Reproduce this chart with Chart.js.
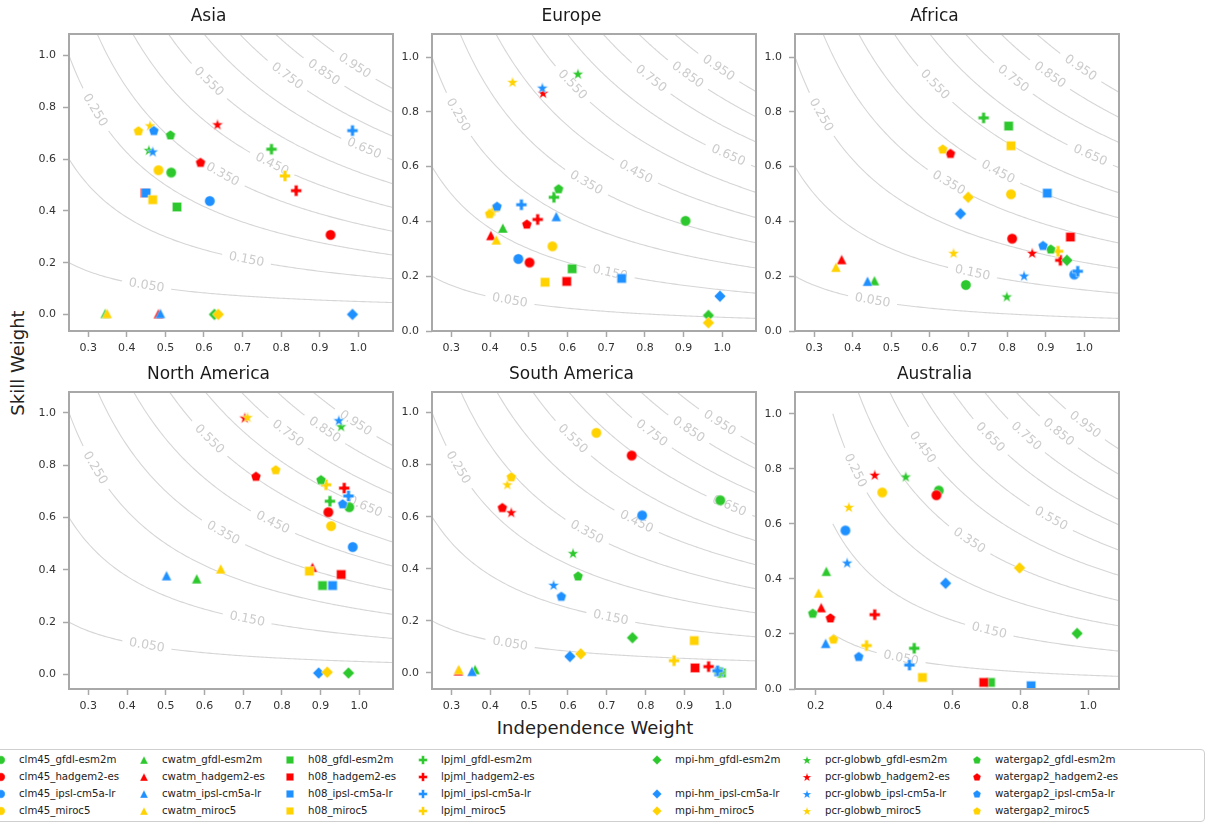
<!DOCTYPE html>
<html lang="en">
<head>
<meta charset="UTF-8">
<title>Skill vs Independence Weight</title>
<script src="https://cdn.jsdelivr.net/npm/chart.js"></script>
<style>
    body { margin: 0; background: #fff; font-family: "DejaVu Sans", sans-serif; }
    #page { position: relative; width: 1209px; height: 825px; overflow: hidden; background: #fff; }
    .panel { position: absolute; }
    .axis-label { position: absolute; font-size: 18px; color: #222; white-space: nowrap; }
    #ylabel { left: 17px; top: 363px; transform: translate(-50%, -50%) rotate(-90deg); }
    #xlabel { left: 595px; top: 727px; transform: translate(-50%, -50%); }
    #legend { position: absolute; left: -6px; top: 749px; width: 1211px; height: 73px;
              border: 1.5px solid #cfcfcf; border-radius: 4px; box-sizing: border-box; }
    .item { position: absolute; font-size: 10.2px; color: #222; white-space: nowrap; line-height: 12px; }
    .item canvas { position: absolute; }
</style>
</head>
<body>
<div id="page">
    <div id="legend"></div>
    <div class="axis-label" id="ylabel">Skill Weight</div>
    <div class="axis-label" id="xlabel">Independence Weight</div>
</div>
<script>
    const regions = ["Asia", "Europe", "Africa", "North America", "South America", "Australia"];
    const models = ["clm45", "cwatm", "h08", "lpjml", "mpi-hm", "pcr-globwb", "watergap2"];
    const gcms = ["gfdl-esm2m", "hadgem2-es", "ipsl-cm5a-lr", "miroc5"];
    const missing = ["mpi-hm_hadgem2-es"];

    // order of values: models x gcms, without mpi-hm_hadgem2-es (27 series)
    const asiaX = [0.515, 0.928, 0.615, 0.482, 0.344, 0.482, 0.487, 0.349, 0.530, 0.447, 0.450, 0.467, 0.775, 0.839, 0.985, 0.810, 0.627, 0.985, 0.637, 0.457, 0.635, 0.467, 0.460, 0.513, 0.591, 0.470, 0.430];
    const asiaY = [0.548, 0.307, 0.438, 0.557, 0.004, 0.003, 0.004, 0.004, 0.415, 0.469, 0.469, 0.443, 0.638, 0.478, 0.710, 0.535, 0.0, 0.0, 0.0, 0.635, 0.734, 0.629, 0.730, 0.693, 0.587, 0.710, 0.709];
    const europeX = [0.905, 0.502, 0.473, 0.561, 0.433, 0.402, 0.571, 0.416, 0.612, 0.598, 0.740, 0.542, 0.565, 0.523, 0.481, 0.409, 0.964, 0.994, 0.964, 0.627, 0.537, 0.535, 0.458, 0.577, 0.495, 0.418, 0.399];
    const europeY = [0.402, 0.250, 0.263, 0.309, 0.376, 0.349, 0.418, 0.333, 0.227, 0.181, 0.192, 0.178, 0.488, 0.407, 0.461, 0.440, 0.057, 0.127, 0.030, 0.939, 0.869, 0.888, 0.909, 0.519, 0.390, 0.455, 0.428];
    const africaX = [0.693, 0.813, 0.974, 0.810, 0.456, 0.371, 0.438, 0.356, 0.804, 0.964, 0.904, 0.810, 0.739, 0.938, 0.983, 0.932, 0.955, 0.679, 0.699, 0.799, 0.865, 0.844, 0.661, 0.913, 0.653, 0.893, 0.633];
    const africaY = [0.168, 0.337, 0.206, 0.499, 0.184, 0.261, 0.182, 0.233, 0.748, 0.343, 0.503, 0.676, 0.778, 0.258, 0.218, 0.291, 0.258, 0.428, 0.488, 0.126, 0.285, 0.202, 0.285, 0.299, 0.648, 0.312, 0.664];
    const northAmericaX = [0.974, 0.920, 0.983, 0.927, 0.580, 0.879, 0.502, 0.642, 0.905, 0.953, 0.931, 0.871, 0.924, 0.961, 0.972, 0.914, 0.972, 0.895, 0.917, 0.953, 0.704, 0.947, 0.711, 0.901, 0.733, 0.957, 0.784];
    const northAmericaY = [0.639, 0.620, 0.487, 0.567, 0.366, 0.410, 0.378, 0.404, 0.340, 0.382, 0.340, 0.395, 0.662, 0.712, 0.682, 0.725, 0.006, 0.006, 0.009, 0.948, 0.981, 0.971, 0.983, 0.744, 0.757, 0.652, 0.782];
    const southAmericaX = [0.992, 0.764, 0.791, 0.673, 0.361, 0.318, 0.353, 0.319, 0.995, 0.927, 0.988, 0.925, 0.990, 0.962, 0.985, 0.873, 0.766, 0.605, 0.633, 0.613, 0.454, 0.563, 0.444, 0.626, 0.431, 0.583, 0.454];
    const southAmericaY = [0.663, 0.835, 0.605, 0.922, 0.013, 0.008, 0.006, 0.013, 0.000, 0.019, 0.004, 0.124, 0.002, 0.024, 0.008, 0.047, 0.135, 0.063, 0.073, 0.460, 0.617, 0.338, 0.724, 0.372, 0.635, 0.294, 0.753];
    const australiaX = [0.561, 0.554, 0.287, 0.395, 0.231, 0.216, 0.229, 0.208, 0.713, 0.693, 0.832, 0.513, 0.489, 0.373, 0.475, 0.349, 0.967, 0.581, 0.798, 0.464, 0.373, 0.292, 0.297, 0.191, 0.243, 0.326, 0.252];
    const australiaY = [0.721, 0.704, 0.576, 0.714, 0.428, 0.296, 0.166, 0.349, 0.024, 0.024, 0.012, 0.042, 0.148, 0.270, 0.087, 0.158, 0.202, 0.384, 0.440, 0.772, 0.778, 0.459, 0.661, 0.275, 0.258, 0.118, 0.181];

    const xValues = [asiaX, europeX, africaX, northAmericaX, southAmericaX, australiaX];
    const yValues = [asiaY, europeY, africaY, northAmericaY, southAmericaY, australiaY];

    // axis ranges per panel
    const xMins = [0.25, 0.25, 0.25, 0.25, 0.25, 0.139];
    const xMaxs = [1.09, 1.087, 1.09, 1.087, 1.084, 1.09];
    const yMins = [-0.064, 0, 0, -0.055, -0.062, 0];
    const yMaxs = [1.083, 1.084, 1.084, 1.079, 1.079, 1.079];

    const xTicks = [0.3, 0.4, 0.5, 0.6, 0.7, 0.8, 0.9, 1.0];
    const xTicksAustralia = [0.2, 0.4, 0.6, 0.8, 1.0];
    const yTicks = [0.0, 0.2, 0.4, 0.6, 0.8, 1.0];

    // combined weight contours: independence * skill = level
    const levels = [0.05, 0.15, 0.25, 0.35, 0.45, 0.55, 0.65, 0.75, 0.85, 0.95];
    const labelX = [0.451, 0.710, 0.317, 0.648, 0.776, 0.612, 1.015, 0.815, 0.910, 0.990];
    const labelXAustralia = [0.450, 0.709, 0.315, 0.650, 0.513, 0.890, 0.711, 0.817, 0.912, 0.990];

    const colors = ["#2dc82d", "#ff0000", "#1e90ff", "#ffd200"];
    const shapes = ["circle", "triangle", "square", "plus", "diamond", "star", "pentagon"];

    const FONT = "DejaVu Sans";
    const PLOT_LEFT = [69, 432, 795];
    const PLOT_TOP = [34, 392];
    const PLOT_W = 324, PLOT_H = 297;
    const Y_AXIS_W = 45, TITLE_H = 34, X_AXIS_H = 30, PAD_R = 6;

    function makeMarker(shape, color, scale) {
        const c = document.createElement("canvas");
        c.width = 16; c.height = 16;
        const g = c.getContext("2d");
        g.translate(8, 8);
        g.scale(scale, scale);
        g.beginPath();
        if (shape === "circle") {
            g.arc(0, 0, 5.2, 0, Math.PI * 2);
        } else if (shape === "triangle") {
            g.moveTo(0, -5.1); g.lineTo(-5.1, 5.0); g.lineTo(5.1, 5.0);
        } else if (shape === "square") {
            g.rect(-4.7, -4.7, 9.4, 9.4);
        } else if (shape === "plus") {
            const a = 5.4, b = 1.85;
            g.moveTo(-b, -a); g.lineTo(b, -a); g.lineTo(b, -b); g.lineTo(a, -b); g.lineTo(a, b);
            g.lineTo(b, b); g.lineTo(b, a); g.lineTo(-b, a); g.lineTo(-b, b); g.lineTo(-a, b);
            g.lineTo(-a, -b); g.lineTo(-b, -b);
        } else if (shape === "diamond") {
            g.moveTo(0, -5.9); g.lineTo(5.9, 0); g.lineTo(0, 5.9); g.lineTo(-5.9, 0);
        } else if (shape === "star") {
            for (let k = 0; k < 10; k++) {
                const r = k % 2 === 0 ? 6.0 : 2.45;
                const t = -Math.PI / 2 + k * Math.PI / 5;
                g.lineTo(r * Math.cos(t), r * Math.sin(t) + 0.6);
            }
        } else if (shape === "pentagon") {
            for (let k = 0; k < 5; k++) {
                const t = -Math.PI / 2 + k * 2 * Math.PI / 5;
                g.lineTo(5.3 * Math.cos(t), 5.3 * Math.sin(t) + 0.4);
            }
        }
        g.closePath();
        g.fillStyle = color;
        g.fill();
        g.lineWidth = 0.5;
        g.strokeStyle = "#ffffff";
        g.stroke();
        return c;
    }

    function contourPoints(level) {
        const start = Math.max(0.25, level / 1.1);
        const pts = [];
        for (let k = 0; k <= 160; k++) {
            const x = start + (1.1 - start) * k / 160;
            pts.push({ x: x, y: level / x });
        }
        return pts;
    }

    const framePlugin = {
        id: "frame",
        afterDraw(chart) {
            const { ctx, chartArea: a } = chart;
            ctx.save();
            ctx.strokeStyle = "#a8a8a8";
            ctx.lineWidth = 2;
            ctx.strokeRect(a.left, a.top, a.right - a.left, a.bottom - a.top);
            ctx.restore();
        }
    };

    // inline contour labels, drawn right after each contour line
    const contourLabelPlugin = {
        id: "contourLabels",
        afterDatasetDraw(chart, args) {
            const ds = chart.data.datasets[args.index];
            if (ds.level === undefined) return;
            const xs = chart.scales.x, ys = chart.scales.y, ctx = chart.ctx;
            const L = ds.level, x0 = ds.labelX;
            const px = xs.getPixelForValue(x0), py = ys.getPixelForValue(L / x0);
            const ax = xs.getPixelForValue(x0 - 0.01), ay = ys.getPixelForValue(L / (x0 - 0.01));
            const bx = xs.getPixelForValue(x0 + 0.01), by = ys.getPixelForValue(L / (x0 + 0.01));
            const ang = Math.atan2(by - ay, bx - ax);
            const text = L.toFixed(3);
            ctx.save();
            ctx.translate(px, py);
            ctx.rotate(ang);
            ctx.font = "12.5px '" + FONT + "'";
            const w = ctx.measureText(text).width;
            ctx.fillStyle = "#ffffff";
            ctx.fillRect(-w / 2 - 7, -4, w + 14, 8);
            ctx.fillStyle = "#cccccc";
            ctx.textAlign = "center";
            ctx.textBaseline = "middle";
            ctx.fillText(text, 0, 0);
            ctx.restore();
        }
    };

    const seriesNames = [];
    const seriesStyles = [];
    models.forEach((m, mi) => {
        gcms.forEach((g, gi) => {
            const name = m + "_" + g;
            if (missing.includes(name)) return;
            seriesNames.push(name);
            seriesStyles.push({ shape: shapes[mi], color: colors[gi] });
        });
    });
    const markerImages = seriesStyles.map(s => makeMarker(s.shape, s.color, 1));

    const page = document.getElementById("page");

    regions.forEach((region, r) => {
        const col = r % 3, row = Math.floor(r / 3);
        const canvas = document.createElement("canvas");
        const w = Y_AXIS_W + PLOT_W + PAD_R, h = TITLE_H + PLOT_H + X_AXIS_H;
        canvas.width = w; canvas.height = h;
        canvas.className = "panel";
        canvas.style.left = (PLOT_LEFT[col] - Y_AXIS_W) + "px";
        canvas.style.top = (PLOT_TOP[row] - TITLE_H) + "px";
        canvas.style.width = w + "px";
        canvas.style.height = h + "px";
        page.appendChild(canvas);

        const labelPos = region === "Australia" ? labelXAustralia : labelX;
        const contours = levels.map((L, i) => ({
            type: "line",
            level: L,
            labelX: labelPos[i],
            data: contourPoints(L),
            borderColor: "#d6d6d6",
            borderWidth: 1.1,
            pointRadius: 0,
            fill: false,
            tension: 0,
            order: 100
        }));
        const points = seriesNames.map((name, i) => ({
            type: "scatter",
            label: name,
            data: [{ x: xValues[r][i], y: yValues[r][i] }],
            pointStyle: markerImages[i],
            pointRadius: 5,
            order: -i
        }));

        const ticksX = region === "Australia" ? xTicksAustralia : xTicks;
        new Chart(canvas, {
            type: "scatter",
            data: { datasets: contours.concat(points) },
            options: {
                responsive: false,
                animation: false,
                events: [],
                layout: { padding: { left: 0, right: PAD_R, top: 0, bottom: 0 } },
                plugins: {
                    legend: { display: false },
                    tooltip: { enabled: false },
                    title: {
                        display: true,
                        text: region,
                        color: "#1a1a1a",
                        font: { family: FONT, size: 17, weight: "normal", lineHeight: 1.25 },
                        padding: { top: 6, bottom: 6.75 }
                    }
                },
                scales: {
                    x: {
                        type: "linear",
                        min: xMins[r], max: xMaxs[r],
                        afterBuildTicks: s => { s.ticks = ticksX.map(v => ({ value: v })); },
                        afterFit: s => { s.height = X_AXIS_H; },
                        border: { display: false },
                        grid: { drawOnChartArea: false, drawTicks: true, tickLength: 6, tickColor: "#a8a8a8", tickWidth: 1.5 },
                        ticks: { font: { family: FONT, size: 11 }, color: "#333", padding: 5, maxRotation: 0, autoSkip: false,
                                 callback: v => Number(v).toFixed(1) }
                    },
                    y: {
                        type: "linear",
                        min: yMins[r], max: yMaxs[r],
                        afterBuildTicks: s => { s.ticks = yTicks.map(v => ({ value: v })); },
                        afterFit: s => { s.width = Y_AXIS_W; },
                        border: { display: false },
                        grid: { drawOnChartArea: false, drawTicks: true, tickLength: 6, tickColor: "#a8a8a8", tickWidth: 1.5 },
                        ticks: { font: { family: FONT, size: 11 }, color: "#333", padding: 7, autoSkip: false,
                                 callback: v => Number(v).toFixed(1) }
                    }
                }
            },
            plugins: [framePlugin, contourLabelPlugin]
        });
    });

    // shared legend, one column per model, one row per GCM
    const legendColX = [1, 144, 290, 423, 657, 807, 977];
    const legendRowY = [760, 777, 794, 811];
    models.forEach((m, mi) => {
        gcms.forEach((g, gi) => {
            const name = m + "_" + g;
            if (missing.includes(name)) return;
            const item = document.createElement("div");
            item.className = "item";
            item.style.left = (legendColX[mi] - 8) + "px";
            item.style.top = (legendRowY[gi] - 8) + "px";
            const icon = makeMarker(shapes[mi], colors[gi], 0.8);
            icon.style.left = "0px";
            icon.style.top = "0px";
            item.appendChild(icon);
            const span = document.createElement("span");
            span.textContent = name;
            span.style.position = "absolute";
            span.style.left = "26px";
            span.style.top = "2px";
            item.appendChild(span);
            page.appendChild(item);
        });
    });
</script>
</body>
</html>
